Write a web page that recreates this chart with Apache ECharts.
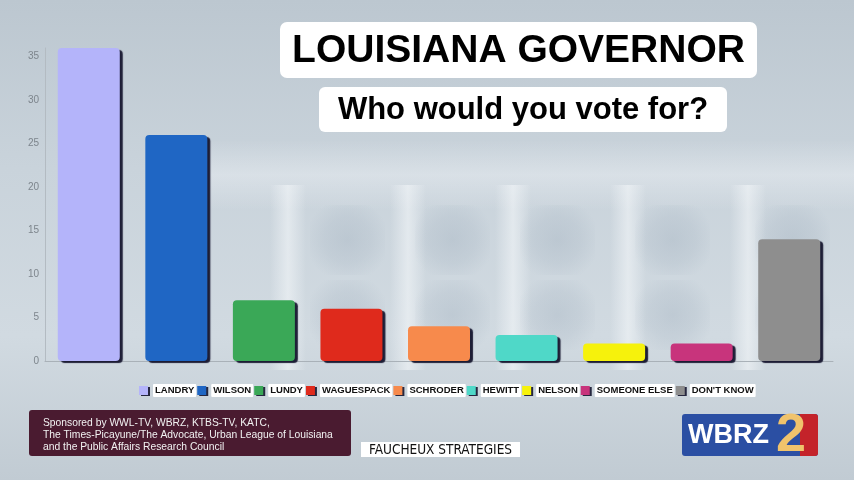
<!DOCTYPE html>
<html>
<head>
<meta charset="utf-8">
<script src="https://cdn.jsdelivr.net/npm/echarts@6/dist/echarts.min.js"></script>
<style>html,body{margin:0;padding:0;}#c{width:854px;height:480px;}</style>
</head>
<body>
<div id="c"></div>
<script>
const categories = ['LANDRY','WILSON','LUNDY','WAGUESPACK','SCHRODER','HEWITT','NELSON','SOMEONE ELSE',"DON'T KNOW"];
const values = [36, 26, 7, 6, 4, 3, 2, 2, 14];
const colors = ['#b4b4fa','#1f66c4','#3aa857','#df2a1c','#f78a4c','#4fd8c8','#f6f20c','#c8347c','#8e8e8e'];
const yTicks = [0, 5, 10, 15, 20, 25, 30, 35];
const titleText = 'LOUISIANA GOVERNOR';
const subtitleText = 'Who would you vote for?';
const sponsorText = 'Sponsored by WWL-TV, WBRZ, KTBS-TV, KATC,\nThe Times-Picayune/The Advocate, Urban League of Louisiana\nand the Public Affairs Research Council';
const pollsterText = 'FAUCHEUX STRATEGIES';

const chart = echarts.init(document.getElementById('c'));
const series = categories.map((name, i) => ({
  name: name,
  type: 'bar',
  stack: 'all',
  barWidth: 62,
  z: 5,
  data: categories.map((c, j) => j === i ? values[i] : '-'),
  itemStyle: {
    color: colors[i],
    borderRadius: 4,
    shadowColor: 'rgba(20,20,45,0.95)',
    shadowOffsetX: 3,
    shadowOffsetY: 2,
    shadowBlur: 1
  },
  silent: true
}));

// soft, blurred backdrop shapes (decorative, faded edges via gradients)
function hBand(c) {
  return {type: 'linear', x: 0, y: 0, x2: 1, y2: 0, colorStops: [
    {offset: 0, color: 'rgba(' + c + ',0)'}, {offset: 0.5, color: 'rgba(' + c + ',0.55)'}, {offset: 1, color: 'rgba(' + c + ',0)'}]};
}
function vBand(c, a) {
  return {type: 'linear', x: 0, y: 0, x2: 0, y2: 1, colorStops: [
    {offset: 0, color: 'rgba(' + c + ',0)'}, {offset: 0.5, color: 'rgba(' + c + ',' + a + ')'}, {offset: 1, color: 'rgba(' + c + ',0)'}]};
}
function blob(c, a) {
  return {type: 'radial', x: 0.5, y: 0.5, r: 0.6, colorStops: [
    {offset: 0, color: 'rgba(' + c + ',' + a + ')'}, {offset: 0.55, color: 'rgba(' + c + ',' + (a * 0.6) + ')'}, {offset: 1, color: 'rgba(' + c + ',0)'}]};
}
const backdrop = [];
backdrop.push({type: 'rect', z: -10, silent: true, shape: {x: 200, y: 140, width: 654, height: 70}, style: {fill: vBand('236,240,244', 0.45)}});
[270, 390, 495, 610, 730].forEach(x => backdrop.push({
  type: 'rect', z: -10, silent: true, shape: {x: x, y: 185, width: 36, height: 185},
  style: {fill: hBand('246,249,251')}
}));
[[310,205],[415,205],[520,205],[635,205],[755,205],[310,280],[415,280],[520,280],[635,280],[755,280]].forEach(p => backdrop.push({
  type: 'rect', z: -10, silent: true, shape: {x: p[0], y: p[1], width: 75, height: 70},
  style: {fill: blob('150,166,182', 0.3)}
}));

chart.setOption({
  animation: false,
  backgroundColor: {
    type: 'linear', x: 0, y: 0, x2: 0, y2: 1,
    colorStops: [
      {offset: 0, color: '#bcc7d0'},
      {offset: 0.35, color: '#c9d3db'},
      {offset: 0.7, color: '#d1dae1'},
      {offset: 1, color: '#c1cbd3'}
    ]
  },
  grid: {left: 45, right: 21, top: 48, bottom: 119},
  xAxis: {
    type: 'category',
    data: categories,
    axisLine: {show: true, lineStyle: {color: '#a9b1b8', width: 1}},
    axisTick: {show: false},
    axisLabel: {show: false}
  },
  yAxis: {
    type: 'value',
    min: 0, max: 36, interval: 5,
    splitLine: {show: false},
    axisTick: {show: false},
    axisLine: {show: true, lineStyle: {color: '#b3bbc2'}},
    axisLabel: {
      color: '#7d858c', fontSize: 10, margin: 6, fontFamily: 'Liberation Sans',
      formatter: v => yTicks.indexOf(v) >= 0 ? String(v) : ''
    }
  },
  legend: {
    data: categories,
    left: 134, top: 379,
    itemWidth: 9, itemHeight: 9, itemGap: 1,
    icon: 'rect',
    itemStyle: {shadowColor: 'rgba(20,20,45,0.9)', shadowOffsetX: 2, shadowOffsetY: 1},
    textStyle: {
      color: '#111', fontSize: 9.5, fontWeight: 'bold', fontFamily: 'Liberation Sans',
      backgroundColor: '#fff', padding: [2, 2, 1, 2], borderRadius: 1
    },
    selectedMode: false
  },
  series: series,
  graphic: backdrop.concat([
    {type: 'rect', shape: {x: 280, y: 22, width: 477, height: 56, r: 7}, style: {fill: '#fff'}},
    {type: 'text', x: 518.5, y: 51, style: {text: titleText, fill: '#000', font: 'bold 39px "Liberation Sans"', textAlign: 'center', textVerticalAlign: 'middle'}},
    {type: 'rect', shape: {x: 319, y: 87, width: 408, height: 45, r: 6}, style: {fill: '#fff'}},
    {type: 'text', x: 523, y: 110, style: {text: subtitleText, fill: '#000', font: 'bold 31px "Liberation Sans"', textAlign: 'center', textVerticalAlign: 'middle'}},
    {type: 'rect', shape: {x: 29, y: 410, width: 322, height: 46, r: 3}, style: {fill: '#4a1b30'}},
    {type: 'text', x: 43, y: 417, style: {text: sponsorText, fill: '#f2f2f2', font: '10.3px "Liberation Sans"', lineHeight: 12}},
    {type: 'rect', shape: {x: 361, y: 442, width: 159, height: 15}, style: {fill: '#fff'}},
    {type: 'text', x: 440.5, y: 450, style: {text: pollsterText, fill: '#111', font: '13.5px "DejaVu Sans Condensed", "Liberation Sans", sans-serif', textAlign: 'center', textVerticalAlign: 'middle'}},
    {type: 'rect', shape: {x: 682, y: 414, width: 136, height: 42, r: 3}, style: {fill: '#2b4fa3'}},
    {type: 'rect', shape: {x: 800, y: 414, width: 18, height: 42, r: [0, 3, 3, 0]}, style: {fill: '#c4232a'}},
    {type: 'text', x: 688, y: 436, style: {text: 'WBRZ', fill: '#fff', font: 'bold 27px "Liberation Sans"', textVerticalAlign: 'middle'}},
    {type: 'text', x: 791, y: 436, style: {text: '2', fill: '#f0c36c', font: 'bold 54px "Liberation Sans"', textAlign: 'center', textVerticalAlign: 'middle'}}
  ])
});
</script>
</body>
</html>
